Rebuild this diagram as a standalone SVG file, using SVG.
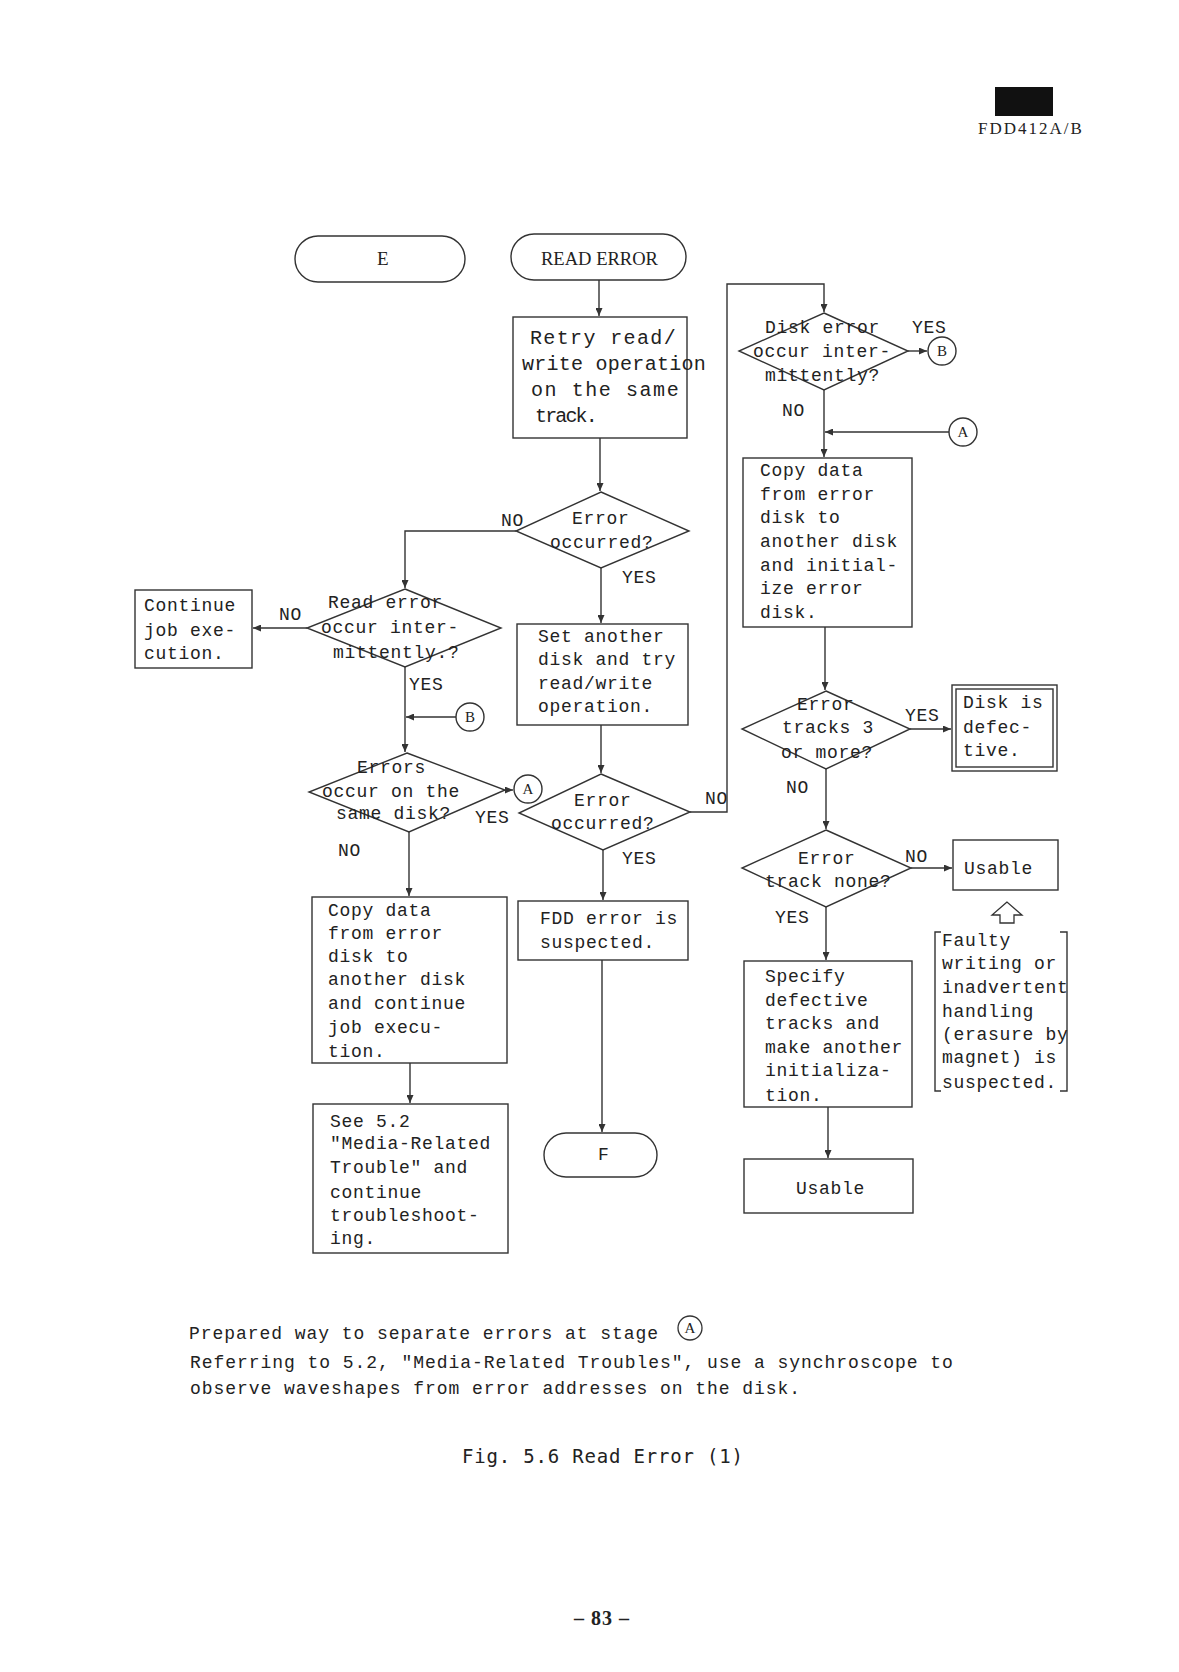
<svg xmlns="http://www.w3.org/2000/svg" width="1179" height="1672" viewBox="0 0 1179 1672">
<style>
.t{font-family:"Liberation Mono","DejaVu Sans Mono",monospace;font-size:18px;letter-spacing:0.7px;fill:#222}
.tb{font-size:20px;letter-spacing:1.3px}
.sr{font-family:"Liberation Serif","DejaVu Serif",serif;font-size:19px;fill:#222}
.cl{font-family:"Liberation Serif","DejaVu Serif",serif;font-size:15px;fill:#222;text-anchor:middle}
.box{fill:#fff;stroke:#333;stroke-width:1.4}
.ln{fill:none;stroke:#333;stroke-width:1.4}
.fig{font-family:"DejaVu Sans Mono","Liberation Mono",monospace;font-size:19px;fill:#222}
</style>
<defs>
<marker id="ah" markerWidth="9" markerHeight="7" refX="8" refY="3.5" orient="auto" markerUnits="userSpaceOnUse"><path d="M0,0 L8,3.5 L0,7 z" fill="#333"/></marker>
</defs>
<rect width="1179" height="1672" fill="#fff"/>

<g id="header">
<rect x="995" y="87" width="58" height="29" fill="#111"/>
<text x="978" y="134" style="font-family:'Liberation Serif',serif;font-size:17px;letter-spacing:2px;fill:#222">FDD412A/B</text>
</g>

<g id="connectors">
<path class="ln" d="M599,280 V316" marker-end="url(#ah)"/>
<path class="ln" d="M600,438 V491" marker-end="url(#ah)"/>
<path class="ln" d="M516,531 H405 V588" marker-end="url(#ah)"/>
<path class="ln" d="M601,568 V623" marker-end="url(#ah)"/>
<path class="ln" d="M307,628 H253" marker-end="url(#ah)"/>
<path class="ln" d="M405,667 V752" marker-end="url(#ah)"/>
<path class="ln" d="M456,717 H406" marker-end="url(#ah)"/>
<path class="ln" d="M505,790 H513" marker-end="url(#ah)"/>
<path class="ln" d="M409,832 V896" marker-end="url(#ah)"/>
<path class="ln" d="M410,1063 V1103" marker-end="url(#ah)"/>
<path class="ln" d="M601,725 V773" marker-end="url(#ah)"/>
<path class="ln" d="M603,850 V900" marker-end="url(#ah)"/>
<path class="ln" d="M602,960 V1132" marker-end="url(#ah)"/>
<path class="ln" d="M690,812 H727 V284 H824 V312" marker-end="url(#ah)"/>
<path class="ln" d="M908,351 H927" marker-end="url(#ah)"/>
<path class="ln" d="M824,390 V457" marker-end="url(#ah)"/>
<path class="ln" d="M949,432 H825" marker-end="url(#ah)"/>
<path class="ln" d="M825,627 V690" marker-end="url(#ah)"/>
<path class="ln" d="M910,729 H951" marker-end="url(#ah)"/>
<path class="ln" d="M826,769 V829" marker-end="url(#ah)"/>
<path class="ln" d="M911,868 H952" marker-end="url(#ah)"/>
<path class="ln" d="M826,907 V960" marker-end="url(#ah)"/>
<path class="ln" d="M828,1107 V1158" marker-end="url(#ah)"/>
</g>

<g id="E">
<rect class="box" x="295" y="236" width="170" height="46" rx="23"/>
<text class="sr" x="377" y="265">E</text>
</g>

<g id="read-error">
<rect class="box" x="511" y="234" width="175" height="46" rx="23"/>
<text class="sr" x="541" y="265" textLength="117" lengthAdjust="spacingAndGlyphs">READ ERROR</text>
</g>

<g id="retry">
<rect class="box" x="513" y="317" width="174" height="121"/>
<text class="t tb" x="530" y="344" textLength="147">Retry read/</text>
<text class="t tb" x="522" y="370" textLength="185">write operation</text>
<text class="t tb" x="531" y="396" textLength="149">on the same</text>
<text class="t tb" x="535" y="422" textLength="64">track.</text>
</g>

<g id="error-occurred-1">
<polygon class="box" points="601,492 689,531 601,568 516,531"/>
<text class="t" x="572" y="524">Error</text>
<text class="t" x="550" y="548">occurred?</text>
<text class="t" x="501" y="526">NO</text>
<text class="t" x="622" y="583">YES</text>
</g>

<g id="read-error-intermittent">
<polygon class="box" points="405,589 501,628 405,667 307,628"/>
<text class="t" x="328" y="608">Read error</text>
<text class="t" x="321" y="633">occur inter-</text>
<text class="t" x="333" y="658">mittently.?</text>
<text class="t" x="279" y="620">NO</text>
<text class="t" x="409" y="690">YES</text>
</g>

<g id="continue">
<rect class="box" x="135" y="590" width="117" height="78"/>
<text class="t" x="144" y="611">Continue</text>
<text class="t" x="144" y="636">job exe-</text>
<text class="t" x="144" y="659">cution.</text>
</g>

<g id="connector-B-left">
<circle class="box" cx="470" cy="717" r="14"/>
<text class="cl" x="470" y="722">B</text>
</g>

<g id="errors-same-disk">
<polygon class="box" points="407,753 505,790 409,832 309,792"/>
<text class="t" x="357" y="773">Errors</text>
<text class="t" x="322" y="797">occur on the</text>
<text class="t" x="336" y="819">same disk?</text>
<text class="t" x="475" y="823">YES</text>
<text class="t" x="338" y="856">NO</text>
</g>

<g id="connector-A-left">
<circle class="box" cx="528" cy="789" r="14"/>
<text class="cl" x="528" y="794">A</text>
</g>

<g id="copy-continue">
<rect class="box" x="312" y="897" width="195" height="166"/>
<text class="t" x="328" y="916">Copy data</text>
<text class="t" x="328" y="939">from error</text>
<text class="t" x="328" y="962">disk to</text>
<text class="t" x="328" y="985">another disk</text>
<text class="t" x="328" y="1009">and continue</text>
<text class="t" x="328" y="1033">job execu-</text>
<text class="t" x="328" y="1057">tion.</text>
</g>

<g id="see-5-2">
<rect class="box" x="313" y="1104" width="195" height="149"/>
<text class="t" x="330" y="1127">See 5.2</text>
<text class="t" x="330" y="1149">"Media-Related</text>
<text class="t" x="330" y="1173">Trouble" and</text>
<text class="t" x="330" y="1198">continue</text>
<text class="t" x="330" y="1221">troubleshoot-</text>
<text class="t" x="330" y="1244">ing.</text>
</g>

<g id="set-another">
<rect class="box" x="517" y="624" width="171" height="101"/>
<text class="t" x="538" y="642">Set another</text>
<text class="t" x="538" y="665">disk and try</text>
<text class="t" x="538" y="689">read/write</text>
<text class="t" x="538" y="712">operation.</text>
</g>

<g id="error-occurred-2">
<polygon class="box" points="601,774 690,812 603,850 519,813"/>
<text class="t" x="574" y="806">Error</text>
<text class="t" x="551" y="829">occurred?</text>
<text class="t" x="705" y="804">NO</text>
<text class="t" x="622" y="864">YES</text>
</g>

<g id="fdd-error">
<rect class="box" x="518" y="901" width="170" height="59"/>
<text class="t" x="540" y="924">FDD error is</text>
<text class="t" x="540" y="948">suspected.</text>
</g>

<g id="F">
<rect class="box" x="544" y="1133" width="113" height="44" rx="22"/>
<text class="t" x="598" y="1160">F</text>
</g>

<g id="disk-error-intermittent">
<polygon class="box" points="824,313 908,351 824,390 739,351"/>
<text class="t" x="765" y="333">Disk error</text>
<text class="t" x="753" y="357">occur inter-</text>
<text class="t" x="765" y="381">mittently?</text>
<text class="t" x="912" y="333">YES</text>
<text class="t" x="782" y="416">NO</text>
</g>

<g id="connector-B-right">
<circle class="box" cx="942" cy="351" r="14"/>
<text class="cl" x="942" y="356">B</text>
</g>

<g id="connector-A-right">
<circle class="box" cx="963" cy="432" r="14"/>
<text class="cl" x="963" y="437">A</text>
</g>

<g id="copy-initialize">
<rect class="box" x="743" y="458" width="169" height="169"/>
<text class="t" x="760" y="476">Copy data</text>
<text class="t" x="760" y="500">from error</text>
<text class="t" x="760" y="523">disk to</text>
<text class="t" x="760" y="547">another disk</text>
<text class="t" x="760" y="571">and initial-</text>
<text class="t" x="760" y="594">ize error</text>
<text class="t" x="760" y="618">disk.</text>
</g>

<g id="error-tracks-3">
<polygon class="box" points="826,691 910,729 826,769 742,729"/>
<text class="t" x="797" y="710">Error</text>
<text class="t" x="782" y="733">tracks 3</text>
<text class="t" x="781" y="758">or more?</text>
<text class="t" x="905" y="721">YES</text>
<text class="t" x="786" y="793">NO</text>
</g>

<g id="disk-defective">
<rect class="box" x="952" y="685" width="105" height="86"/>
<rect class="box" x="956" y="689" width="97" height="78"/>
<text class="t" x="963" y="708">Disk is</text>
<text class="t" x="963" y="733">defec-</text>
<text class="t" x="963" y="756">tive.</text>
</g>

<g id="error-track-none">
<polygon class="box" points="826,830 911,868 826,907 742,868"/>
<text class="t" x="798" y="864">Error</text>
<text class="t" x="765" y="887">track none?</text>
<text class="t" x="905" y="862">NO</text>
<text class="t" x="775" y="923">YES</text>
</g>

<g id="usable-right">
<rect class="box" x="953" y="840" width="105" height="50"/>
<text class="t" x="964" y="874">Usable</text>
</g>

<g id="faulty-note">
<polygon points="1007,902 992,915 1000,915 1000,923 1014,923 1014,915 1022,915" fill="#fff" stroke="#333" stroke-width="1.3"/>
<path class="ln" d="M941,932 H935 V1091 H941"/>
<path class="ln" d="M1060,932 H1067 V1091 H1060"/>
<text class="t" x="942" y="946">Faulty</text>
<text class="t" x="942" y="969">writing or</text>
<text class="t" x="942" y="993">inadvertent</text>
<text class="t" x="942" y="1017">handling</text>
<text class="t" x="942" y="1040">(erasure by</text>
<text class="t" x="942" y="1063">magnet) is</text>
<text class="t" x="942" y="1088">suspected.</text>
</g>

<g id="specify">
<rect class="box" x="744" y="961" width="168" height="146"/>
<text class="t" x="765" y="982">Specify</text>
<text class="t" x="765" y="1006">defective</text>
<text class="t" x="765" y="1029">tracks and</text>
<text class="t" x="765" y="1053">make another</text>
<text class="t" x="765" y="1076">initializa-</text>
<text class="t" x="765" y="1101">tion.</text>
</g>

<g id="usable-bottom">
<rect class="box" x="744" y="1159" width="169" height="54"/>
<text class="t" x="796" y="1194">Usable</text>
</g>

<g id="notes">
<text class="t" x="189" y="1339" style="letter-spacing:0.95px">Prepared way to separate errors at stage</text>
<circle cx="690" cy="1328" r="12" fill="none" stroke="#333" stroke-width="1.3"/>
<text class="cl" x="690" y="1333">A</text>
<text class="t" x="190" y="1368" style="letter-spacing:0.95px">Referring to 5.2, "Media-Related Troubles", use a synchroscope to</text>
<text class="t" x="190" y="1394" style="letter-spacing:0.95px">observe waveshapes from error addresses on the disk.</text>
<text class="fig" x="462" y="1463" textLength="281">Fig. 5.6 Read Error (1)</text>
<text x="602" y="1625" style="font-family:'Liberation Serif',serif;font-size:20px;font-weight:bold;letter-spacing:1px;fill:#222;text-anchor:middle">– 83 –</text>
</g>
</svg>
